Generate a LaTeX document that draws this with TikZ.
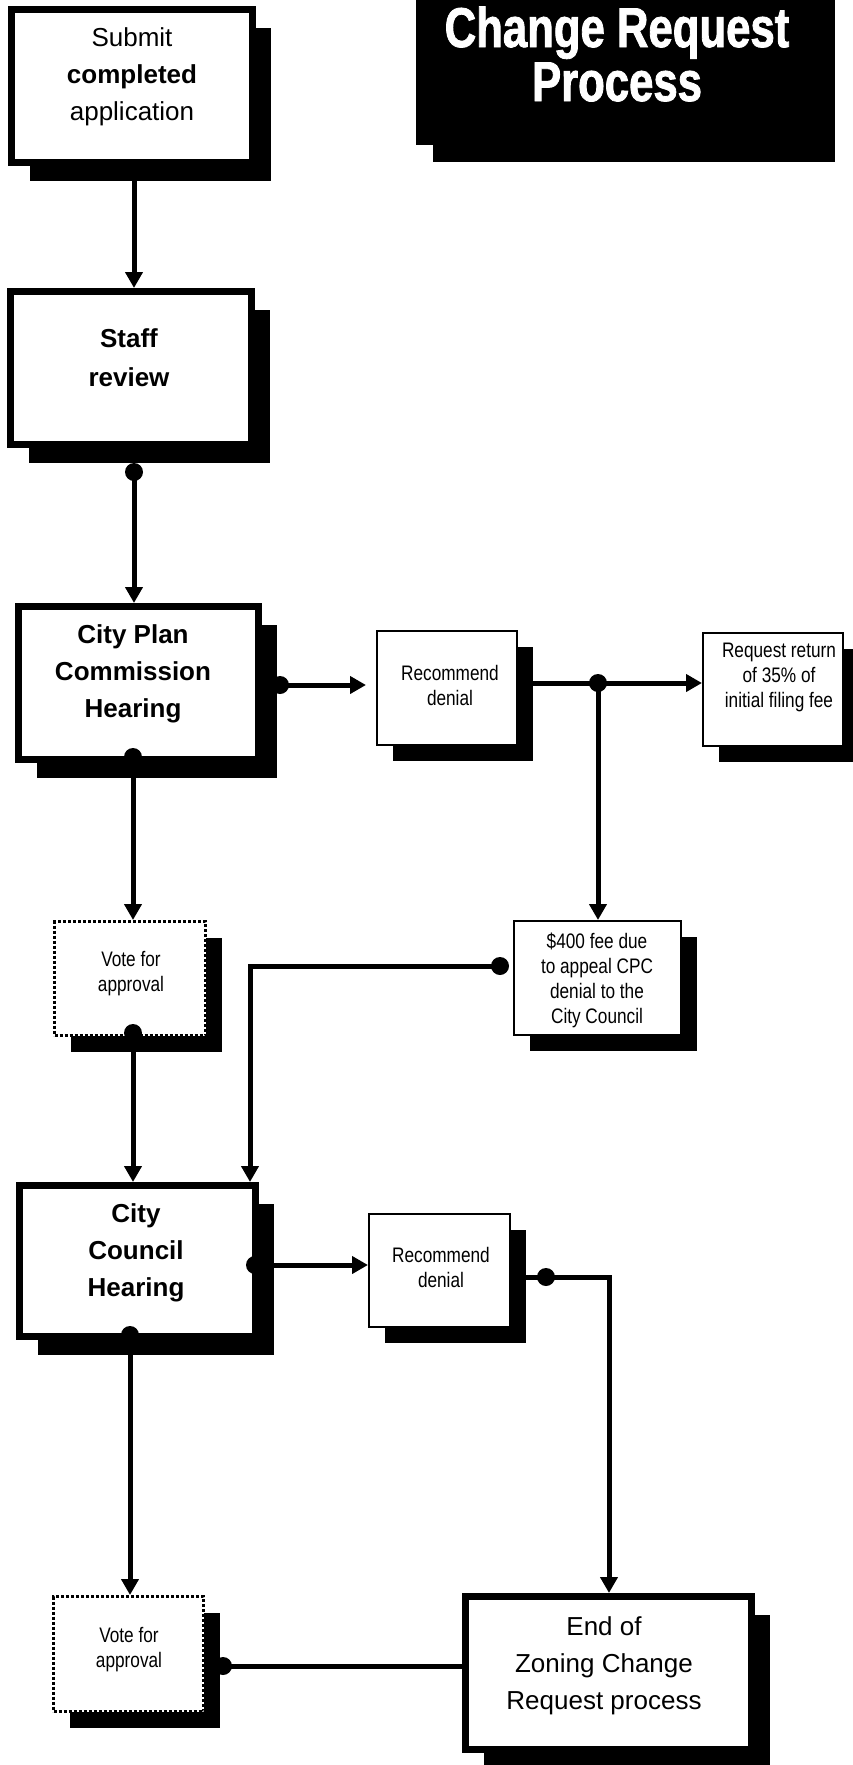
\documentclass[tikz,border=0pt]{standalone}
\usepackage{fontspec}
\setmainfont{Liberation Sans}
\newfontfamily\narrowfont[FakeStretch=0.82]{Liberation Sans}
\newfontfamily\titlefont[FakeStretch=0.78,BoldFeatures={FakeBold=1.5}]{Liberation Sans}
\usetikzlibrary{arrows.meta,shadows,calc}
\begin{document}
\begin{tikzpicture}[x=1pt,y=-1pt,
  bigbox/.style={draw=black, line width=7pt, fill=white, inner sep=0pt,
    drop shadow={shadow xshift=18pt, shadow yshift=-18pt, opacity=1, fill=black}},
  smallbox/.style={draw=black, line width=2pt, fill=white, inner sep=0pt,
    drop shadow={shadow xshift=16pt, shadow yshift=-16pt, opacity=1, fill=black}},
  votebox/.style={draw=black, line width=3pt, dash pattern=on 3pt off 2pt, fill=white, inner sep=0pt,
    drop shadow={shadow xshift=16pt, shadow yshift=-16pt, opacity=1, fill=black}},
  bigtxt/.style={font=\fontsize{26}{37}\selectfont, align=center, inner sep=0pt},
  smalltxt/.style={font=\narrowfont\fontsize{21}{25}\selectfont, align=center, inner sep=0pt},
  conn/.style={line width=5pt},
  arr/.style={conn, -{Triangle[width=17pt,length=16pt]}},
  dot/.style={circle, fill=black, inner sep=0pt, minimum size=18pt}
]
\useasboundingbox (0,0) rectangle (852,1765);

% title
\node[fill=black, minimum width=402pt, minimum height=165pt, inner sep=0pt,
  drop shadow={shadow xshift=17pt, shadow yshift=-17pt, opacity=1, fill=black}] (title) at (617,62.5) {};
\node[anchor=base, text=white, inner sep=0pt, font=\titlefont\bfseries\fontsize{56}{56}\selectfont] (t1) at (617,47) {Change Request};
\node[anchor=base, text=white, inner sep=0pt, font=\titlefont\bfseries\fontsize{56}{56}\selectfont] (t2) at (617,101) {Process};

% boxes
\node[bigbox, minimum width=241pt, minimum height=153pt] (b1) at (132,86) {};
\node[bigtxt] (b1t) at (132,77) {Submit\\\textbf{completed}\\application};

\node[bigbox, minimum width=241pt, minimum height=153pt] (b2) at (131,368) {};
\node[bigtxt, font=\bfseries\fontsize{26}{39}\selectfont] (b2t) at (129,358) {Staff\\review};

\node[bigbox, minimum width=240pt, minimum height=153pt] (b3) at (138.5,683) {};
\node[bigtxt, font=\bfseries\fontsize{26}{37}\selectfont] (b3t) at (133,674) {City Plan\\Commission\\Hearing};

\node[smallbox, minimum width=140pt, minimum height=114pt] (rd1) at (447,688) {};
\node[smalltxt] (rd1t) at (450,685) {Recommend\\denial};

\node[smallbox, minimum width=140pt, minimum height=113pt] (req) at (773,689.5) {};
\node[smalltxt] (reqt) at (779,677) {Request return\\of 35\% of\\initial filing fee};

\node[smallbox, minimum width=167pt, minimum height=114pt] (f400) at (597.5,978) {};
\node[smalltxt] (f400t) at (597,980) {\$400 fee due\\to appeal CPC\\denial to the\\City Council};

\node[votebox, minimum width=151pt, minimum height=114pt] (v1) at (130,978.5) {};
\node[smalltxt] (v1t) at (131,974) {Vote for\\approval};

\node[bigbox, minimum width=236pt, minimum height=151pt] (cc) at (137.5,1261) {};
\node[bigtxt, font=\bfseries\fontsize{26}{37}\selectfont] (cct) at (136,1253) {City\\Council\\Hearing};

\node[smallbox, minimum width=141pt, minimum height=113pt] (rd2) at (439.5,1270.5) {};
\node[smalltxt] (rd2t) at (441,1267) {Recommend\\denial};

\node[votebox, minimum width=150pt, minimum height=115pt] (v2) at (128.5,1654) {};
\node[smalltxt] (v2t) at (129,1650) {Vote for\\approval};

\node[bigbox, minimum width=286pt, minimum height=153pt] (end) at (608.5,1673) {};
\node[bigtxt] (endt) at (604,1666) {End of\\Zoning Change\\Request process};

% junction dots and bends
\coordinate (colA) at (134,0);
\node[dot] (j1) at (134,472) {};
\node[dot] (j2) at (133,757) {};
\node[dot] (j3) at (133,1033) {};
\node[dot] (j4) at (280,685) {};
\node[dot] (j5) at (598,683) {};
\node[dot] (j6) at (500,966) {};
\node[dot] (j7) at (255,1265) {};
\node[dot] (j8) at (546,1277) {};
\node[dot] (j9) at (130,1335) {};
\node[dot] (j10) at (223,1666) {};
\coordinate (k1) at (250,966);
\coordinate (k2) at (609,1277);

% connectors
\draw[arr] (b1.south -| colA) -- (b2.north -| colA);
\draw[arr] (j1.center) -- (b3.north -| j1);
\draw[arr] (j2.center) -- (v1.north -| j2);
\draw[arr] (j3.center) -- (cc.north -| j3);
\draw[arr, shorten >=10pt] (j4.center) -- (rd1.west |- j4);
\draw[conn] (rd1.east |- j5) -- (j5.center);
\draw[arr] (j5.center) -- (req.west |- j5);
\draw[arr] (j5.center) -- (f400.north -| j5);
\draw[arr] (j6.center) -- (k1) -- (cc.north -| k1);
\draw[arr] (j7.center) -- (rd2.west |- j7);
\draw[conn] (rd2.east |- j8) -- (j8.center);
\draw[arr] (j8.center) -- (k2) -- (end.north -| k2);
\draw[arr] (j9.center) -- (v2.north -| j9);
\draw[conn] (j10.center) -- (end.west |- j10);
\end{tikzpicture}
\end{document}
